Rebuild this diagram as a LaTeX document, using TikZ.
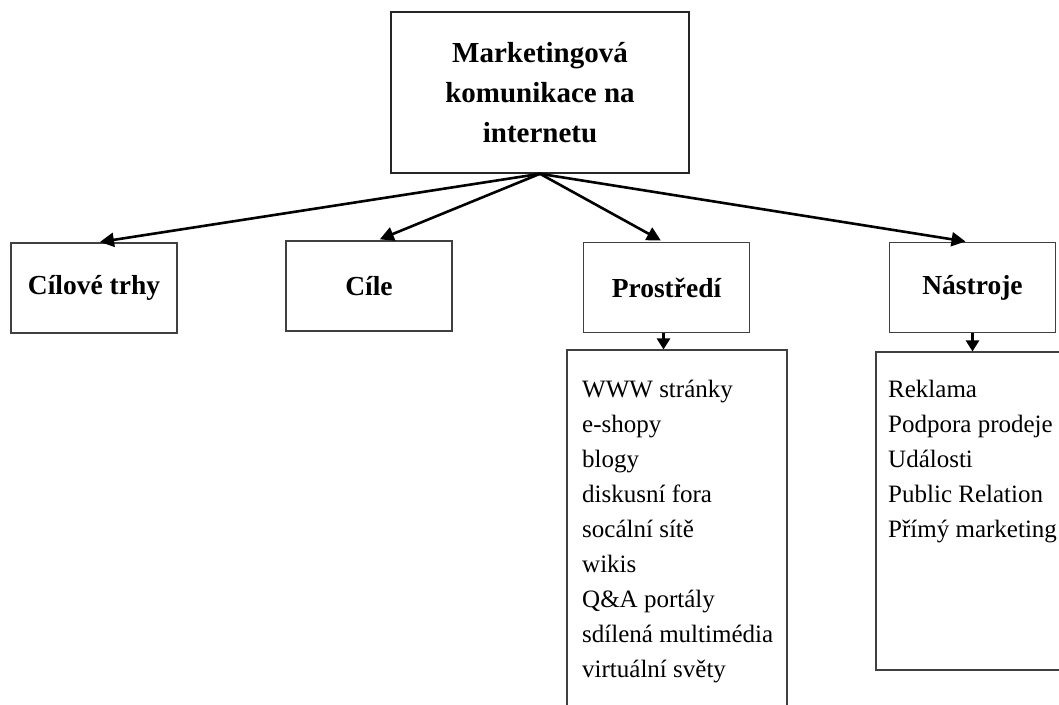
\documentclass[tikz,border=0pt]{standalone}
\usepackage{fontspec}
\setmainfont{Liberation Serif}
\usetikzlibrary{arrows.meta}
\begin{document}
\begin{tikzpicture}[x=1pt,y=-1pt,
  topbox/.style={draw=black!85, line width=1.6pt, minimum width=298pt, minimum height=161pt,
    align=center, inner sep=0pt, font=\fontsize{29}{40}\selectfont\bfseries},
  catbox/.style={draw=black!75, line width=1.1pt, minimum width=166pt, minimum height=90pt,
    inner sep=0pt, font=\fontsize{27.5}{34}\selectfont\bfseries},
  listbox/.style={draw=black!75, line width=1.1pt, inner sep=0pt},
  listtext/.style={anchor=north west, align=left, inner sep=0pt,
    font=\fontsize{25}{35}\selectfont},
  link/.style={line width=2.6pt, -{Triangle[length=14pt,width=14pt]}},
  drop/.style={line width=2.6pt, -{Triangle[length=11pt,width=13pt]}},
]
\clip (0,0) rectangle (1059,704);
\fill[white] (0,0) rectangle (1059,704);

% root
\node[topbox] (root) at (540,92.5) {Marketingová\\komunikace na\\internetu};

% categories
\node[catbox] (trhy) at (94,288)  {Cílové trhy};
\node[catbox] (cile) at (369,286) {Cíle};
\node[catbox] (pros) at (666.5,287.5) {Prostředí};
\node[catbox] (nast) at (972.5,287.5) {Nástroje};

% detail lists
\node[listbox, minimum width=220pt, minimum height=380pt] (plist) at (677,540) {};
\node[listbox, minimum width=210pt, minimum height=318pt] (nlist) at (981,511) {};

\node[listtext] (ptext) at (582,380) {WWW stránky\\e-shopy\\blogy\\diskusní fora\\socální sítě\\wikis\\Q\&A portály\\sdílená multimédia\\virtuální světy};
\node[listtext] (ntext) at (888,380) {Reklama\\Podpora prodeje\\Události\\Public Relation\\Přímý marketing};

% connectors
\draw[link, shorten >=3pt] (root.south) -- ([xshift=3pt]trhy.north);
\draw[link, shorten >=3pt] (root.south) -- ([xshift=8pt]cile.north);
\draw[link, shorten >=3pt] (root.south) -- ([xshift=-3pt]pros.north);
\draw[link, shorten >=3pt] (root.south) -- ([xshift=-4pt]nast.north);

\draw[drop] ([xshift=-3pt]pros.south) -- ([xshift=-3pt]pros.south |- plist.north);
\draw[drop] (nast.south) -- (nast.south |- nlist.north);
\end{tikzpicture}
\end{document}
